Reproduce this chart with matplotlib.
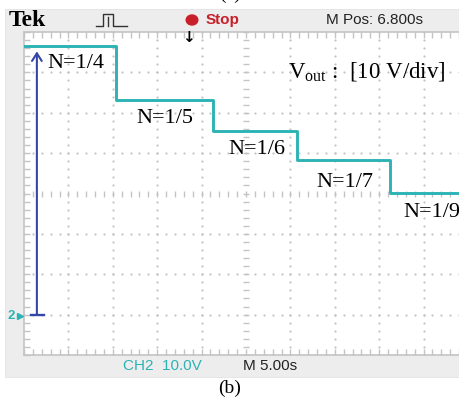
import numpy as np
import matplotlib.pyplot as plt
from matplotlib.patches import Rectangle, Circle

# scope trace (CH2): step times [s] and output levels [V]
step_t = [0.0, 10.4, 21.3, 30.7, 41.2, 50.0]
levels = [66.5, 53.2, 45.5, 38.3, 30.1, 30.1]
labels = ['N=1/4', 'N=1/5', 'N=1/6', 'N=1/7', 'N=1/9']
label_t = [2.6, 12.6, 23.0, 32.9, 42.7]
label_v = [62.3, 48.5, 40.8, 32.8, 25.4]

W, H = 459, 403
fx = lambda px: px / W
fy = lambda py: 1 - py / H

teal = '#2db3b5'
grid_c = '#c4c4c4'
frame_c = '#ededed'
serif = 'Liberation Serif'
plt.rcParams['mathtext.fontset'] = 'custom'
plt.rcParams['mathtext.rm'] = serif

fig = plt.figure(figsize=(W / 100, H / 100), dpi=100)
fig.patch.set_facecolor('white')

# gray instrument frame
fig.patches.append(Rectangle((fx(5), fy(377)), fx(460 - 5), (377 - 9) / H,
                             transform=fig.transFigure, facecolor=frame_c,
                             edgecolor='#e2e2e2', lw=0.6, zorder=-10))

ax = fig.add_axes([fx(24), fy(355), 444 / W, 323 / H])
ax.set_zorder(2)
ax.set_xlim(0, 50)
ax.set_ylim(-10, 70)
ax.set_facecolor('white')
for s in ax.spines.values():
    s.set_color('#c4c4c4')
    s.set_linewidth(1.2)

ax.set_xticks(np.arange(0, 51, 5))
ax.set_xticks(np.arange(0, 51, 1), minor=True)
ax.set_yticks(np.arange(-10, 71, 10))
ax.set_yticks(np.arange(-10, 71, 2), minor=True)
ax.tick_params(which='both', direction='in', top=True, right=True,
               labelbottom=False, labelleft=False, color='#c4c4c4',
               length=4, width=1.0)

# dotted graticule
xs_minor = np.arange(0, 51, 1)
ys_minor = np.arange(-10, 71, 2)
for gx in range(5, 50, 5):
    if gx == 25:
        ax.plot([gx] * len(ys_minor), ys_minor, ls='none', marker='_',
                ms=5, mew=1.0, color=grid_c, zorder=1)
    else:
        ax.plot([gx] * len(ys_minor), ys_minor, ls='none', marker='o',
                ms=1.6, mew=0, color=grid_c, zorder=1)
for gy in range(0, 70, 10):
    if gy == 30:
        ax.plot(xs_minor, [gy] * len(xs_minor), ls='none', marker='|',
                ms=5, mew=1.0, color=grid_c, zorder=1)
    else:
        ax.plot(xs_minor, [gy] * len(xs_minor), ls='none', marker='o',
                ms=1.6, mew=0, color=grid_c, zorder=1)

# trace
ax.plot(step_t, levels, drawstyle='steps-post', color=teal, lw=2.1, zorder=3)

# blue measurement arrow
ax.annotate('', xy=(1.45, 65.2), xytext=(1.45, 0),
            arrowprops=dict(arrowstyle='->,head_length=0.55,head_width=0.35',
                            color='#3646a6', lw=1.5, shrinkA=0, shrinkB=0),
            zorder=4)
ax.plot([0.75, 2.3], [0, 0], color='#3646a6', lw=1.7, zorder=4)

for lab, t, v in zip(labels, label_t, label_v):
    ax.text(t, v, lab, family=serif, fontsize=16, ha='left', va='center',
            zorder=5, clip_on=False)
ax.text(fx(288), fy(72), r'V$_{\rm out}$ :  [10 V/div]', transform=fig.transFigure,
        family=serif, fontsize=16.5, ha='left', va='center', zorder=5)

# ground marker
fig.text(fx(7), fy(316), '2', color=teal, fontsize=9.5, fontweight='bold',
         family='Liberation Sans', ha='left', va='center')
fig.lines.append(plt.Line2D([fx(20)], [fy(316)], marker='>', ms=5,
                            color=teal, transform=fig.transFigure))

# top status bar
fig.text(fx(9), fy(20), 'Tek', family=serif, fontweight='bold', fontsize=17,
         ha='left', va='center')
px = [96, 103, 103, 113, 113, 127]
py = [26, 26, 14, 14, 26, 26]
fig.lines.append(plt.Line2D([fx(p) for p in px], [fy(p) for p in py],
                            color='#333333', lw=1.0, transform=fig.transFigure))
fig.lines.append(plt.Line2D([fx(108), fx(108)], [fy(26), fy(17)],
                            color='#333333', lw=1.0, transform=fig.transFigure))
fig.patches.append(Circle((fx(192), fy(20)), 6.5 / W, transform=fig.transFigure,
                          facecolor='#c8202a', edgecolor='none'))
fig.text(fx(206), fy(20), 'Stop', color='#c8202a', fontweight='bold',
         family='Liberation Sans', fontsize=11, ha='left', va='center')
fig.text(fx(326), fy(20), 'M Pos: 6.800s', color='#222222',
         family='Liberation Sans', fontsize=11, ha='left', va='center')
fig.text(fx(188), fy(37), '\u2193', color='black', fontweight='bold',
         fontsize=11, ha='center', va='center', zorder=10)

# bottom status bar
fig.text(fx(123), fy(366), 'CH2  10.0V', color=teal, family='Liberation Sans',
         fontsize=11, ha='left', va='center')
fig.text(fx(243), fy(366), 'M 5.00s', color='#222222', family='Liberation Sans',
         fontsize=11, ha='left', va='center')

# sub-figure captions
fig.text(0.5, fy(388), '(b)', family=serif, fontsize=14, ha='center', va='center')
fig.text(0.5, fy(-6), '(a)', family=serif, fontsize=14, ha='center', va='center')

fig.savefig('out.png', dpi=100)
